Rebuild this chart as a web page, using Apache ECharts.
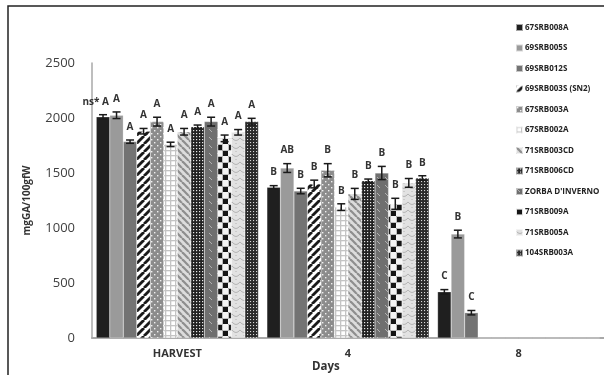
<!DOCTYPE html>
<html>
<head>
<meta charset="utf-8">
<script src="https://cdn.jsdelivr.net/npm/echarts@6/dist/echarts.min.js"></script>
<style>
  html, body { margin: 0; padding: 0; background: #fff; }
  #chart { width: 604px; height: 375px; }
</style>
</head>
<body>
<div id="chart"></div>
<script>
const categories = ['HARVEST', '4', '8']
const varieties = [
  '67SRB008A', '69SRB005S', '69SRB012S', '69SRB003S (SN2)', '67SRB003A', '67SRB002A',
  '71SRB003CD', '71SRB006CD', "ZORBA D'INVERNO", '71SRB009A', '71SRB005A', '104SRB003A',
]
// values per variety: [HARVEST, day 4, day 8]
const means = [
  [2010, 1370, 420],
  [2025, 1545, 945],
  [1785, 1336, 230],
  [1880, 1400, 0],
  [1967, 1525, 0],
  [1760, 1190, 0],
  [1875, 1310, 0],
  [1921, 1430, 0],
  [1967, 1500, 0],
  [1815, 1220, 0],
  [1870, 1410, 0],
  [1967, 1455, 0],
]
const errors = [
  [20, 15, 20],
  [30, 40, 35],
  [15, 25, 20],
  [25, 35, 0],
  [40, 60, 0],
  [20, 30, 0],
  [30, 50, 0],
  [15, 15, 0],
  [40, 60, 0],
  [30, 50, 0],
  [25, 40, 0],
  [30, 20, 0],
]
const letters = [
  ['ns* A', 'B', 'C'],
  ['A', 'AB', 'B'],
  ['A', 'B', 'C'],
  ['A', 'B', ''],
  ['A', 'B', ''],
  ['A', 'B', ''],
  ['A', 'B', ''],
  ['A', 'B', ''],
  ['A', 'B', ''],
  ['A', 'B', ''],
  ['A', 'B', ''],
  ['A', 'B', ''],
]

// small canvas tiles for the Excel-like fill patterns
const tile = (size, draw) => {
  const c = document.createElement('canvas')
  c.width = size
  c.height = size
  draw(c.getContext('2d'), size)
  return { image: c, repeat: 'repeat' }
}

const stripes = (bg, fg, size, width, dir) => tile(size, (g, s) => {
  g.fillStyle = bg
  g.fillRect(0, 0, s, s)
  g.strokeStyle = fg
  g.lineWidth = width
  for (const o of [-s, 0, s]) {
    g.beginPath()
    if (dir > 0) { g.moveTo(o, s); g.lineTo(o + s, 0) } else { g.moveTo(o, 0); g.lineTo(o + s, s) }
    g.stroke()
  }
})

const dots = (bg, fg, size, dot, pts) => tile(size, (g, s) => {
  g.fillStyle = bg
  g.fillRect(0, 0, s, s)
  g.fillStyle = fg
  pts.forEach(([x, y]) => g.fillRect(x, y, dot, dot))
})

const fills = [
  '#1f1f1f',
  '#9a9a9a',
  '#737373',
  stripes('#ffffff', '#1a1a1a', 8, 2.8, 1),
  dots('#8c8c8c', '#f0f0f0', 6, 1.4, [[1, 1], [4, 4]]),
  tile(5, (g, s) => {
    g.fillStyle = '#ffffff'
    g.fillRect(0, 0, s, s)
    g.fillStyle = '#c4c4c4'
    g.fillRect(0, 0, 1.3, s)
    g.fillRect(0, 0, s, 1.3)
  }),
  stripes('#dcdcdc', '#8e8e8e', 7, 2.2, -1),
  dots('#222222', '#e8e8e8', 3, 1.2, [[1, 1]]),
  tile(8, (g, s) => {
    g.fillStyle = '#6f6f6f'
    g.fillRect(0, 0, s, s)
    g.strokeStyle = '#b0b0b0'
    g.lineWidth = 1
    g.beginPath(); g.moveTo(1, 1); g.lineTo(4, 4); g.stroke()
  }),
  tile(12, (g, s) => {
    g.fillStyle = '#f4f4f4'
    g.fillRect(0, 0, s, s)
    g.fillStyle = '#151515'
    g.fillRect(1, 1, 5, 5)
    g.fillRect(7, 7, 5, 5)
    g.strokeStyle = '#9a9a9a'
    g.lineWidth = 0.6
    g.strokeRect(0.5, 0.5, 6, 6)
    g.strokeRect(6.5, 6.5, 6, 6)
  }),
  tile(8, (g, s) => {
    g.fillStyle = '#e2e2e2'
    g.fillRect(0, 0, s, s)
    g.strokeStyle = '#a8a8a8'
    g.lineWidth = 0.8
    g.beginPath(); g.moveTo(0, 2); g.quadraticCurveTo(4, 7, 8, 2); g.stroke()
    g.beginPath(); g.moveTo(4, 7); g.lineTo(4, 8); g.stroke()
  }),
  dots('#2a2a2a', '#d8d8d8', 3, 1.1, [[1, 1]]),
]

const N = varieties.length
const errItems = []
varieties.forEach((_, s) => {
  categories.forEach((_c, k) => {
    errItems.push({ cat: k, s, v: means[s][k], e: errors[s][k], t: letters[s][k] })
  })
})

const chart = echarts.init(document.getElementById('chart'))

const barSeries = varieties.map((name, s) => ({
  name,
  type: 'bar',
  data: means[s],
  barGap: '0%',
  barCategoryGap: '5%',
  itemStyle: { color: fills[s], borderColor: 'rgba(255,255,255,0.6)', borderWidth: 0.4 },
  animation: false,
}))

const errorSeries = {
  type: 'custom',
  name: 'err',
  data: errItems.map((d) => [d.cat, d.v + d.e]),
  animation: false,
  z: 5,
  renderItem: (params, api) => {
    const d = errItems[params.dataIndex]
    if (!d.v) return null
    const bw = api.size([1, 0])[0] * 0.95 / N
    const cx = api.coord([d.cat, 0])[0] + (d.s - (N - 1) / 2) * bw
    const yTop = api.coord([d.cat, d.v + d.e])[1]
    const yBot = api.coord([d.cat, d.v - d.e])[1]
    const st = { stroke: '#1a1a1a', lineWidth: 1.5 }
    const wide = d.t.length > 2
    return {
      type: 'group',
      children: [
        { type: 'line', shape: { x1: cx, y1: yTop, x2: cx, y2: yBot }, style: st },
        { type: 'line', shape: { x1: cx - 4, y1: yTop, x2: cx + 4, y2: yTop }, style: st },
        { type: 'line', shape: { x1: cx - 4, y1: yBot, x2: cx + 4, y2: yBot }, style: st },
        {
          type: 'text',
          x: wide ? cx + 6 : cx,
          y: yTop - 8,
          style: {
            text: d.t,
            fill: '#333',
            font: 'bold 10px "Open Sans", Lato, sans-serif',
            align: wide ? 'right' : 'center',
            verticalAlign: 'bottom',
          },
        },
      ],
    }
  },
}

chart.setOption({
  animation: false,
  backgroundColor: '#fff',
  graphic: [
    {
      type: 'rect',
      shape: { x: 8, y: 6, width: 700, height: 500 },
      style: { fill: 'none', stroke: '#222', lineWidth: 1.5 },
      silent: true,
    },
  ],
  title: {
    text: 'Days',
    left: 307,
    top: 356,
    textStyle: { fontSize: 11.5, fontWeight: 'bold', color: '#333', fontFamily: '"Open Sans"' },
  },
  legend: {
    orient: 'vertical',
    left: 510,
    top: 18,
    itemWidth: 7,
    itemHeight: 7,
    itemGap: 11.5,
    icon: 'rect',
    data: varieties,
    textStyle: { fontSize: 8, fontWeight: 'bold', color: '#222', fontFamily: '"Open Sans"', padding: [0, 0, 0, -3] },
  },
  grid: { left: 92, top: 63, width: 532, height: 275 },
  xAxis: {
    type: 'category',
    data: categories,
    axisLine: { lineStyle: { color: '#a8a8a8', width: 2 } },
    axisTick: { show: false },
    axisLabel: { margin: 10, fontSize: 11, fontWeight: 'bold', color: '#333', fontFamily: '"Open Sans"' },
  },
  yAxis: {
    type: 'value',
    min: 0,
    max: 2500,
    interval: 500,
    name: 'mgGA/100gfW',
    nameLocation: 'middle',
    nameGap: 60,
    nameTextStyle: { fontSize: 10, fontWeight: 'bold', color: '#333', fontFamily: '"Open Sans"' },
    axisLine: { show: true, lineStyle: { color: '#a8a8a8', width: 1.5 } },
    axisTick: { show: false },
    splitLine: { show: false },
    axisLabel: {
      margin: 17,
      fontSize: 13,
      color: '#404040',
      fontFamily: '"Open Sans"',
      formatter: (v) => String(v),
    },
  },
  series: [...barSeries, errorSeries],
})
</script>
</body>
</html>
